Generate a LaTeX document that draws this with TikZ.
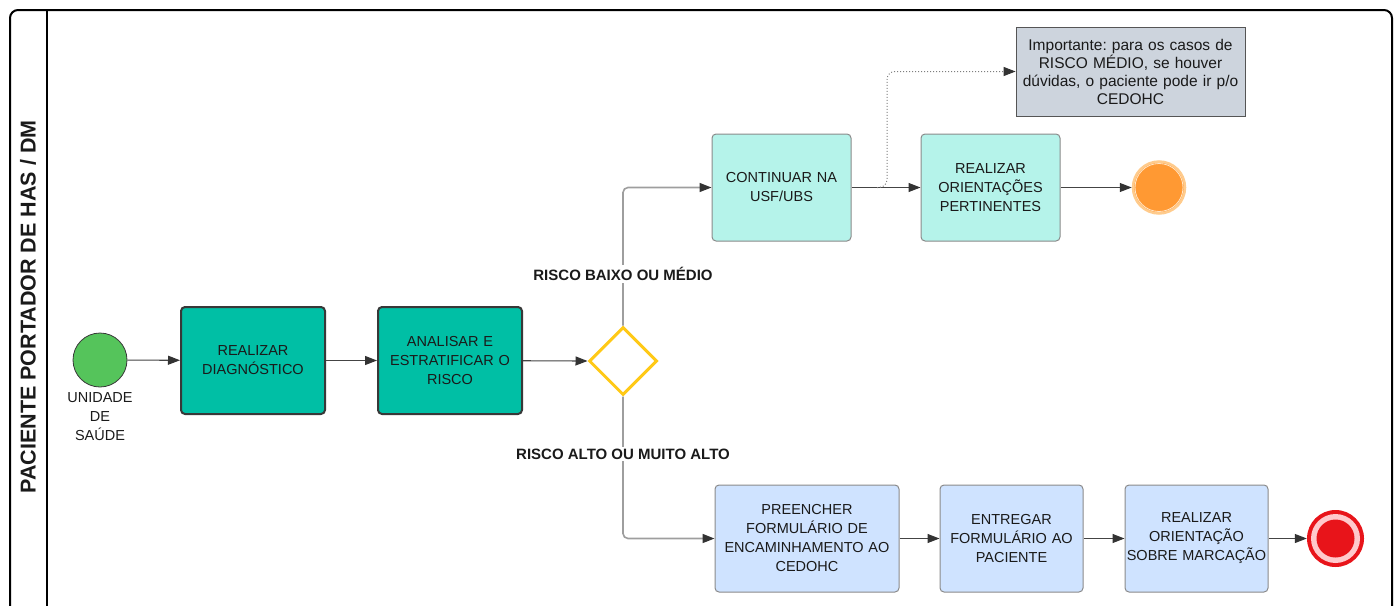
\documentclass[tikz,border=0pt]{standalone}
\usepackage{fontspec}
\setmainfont{Liberation Sans}
\usetikzlibrary{shapes.geometric,arrows.meta}
\frenchspacing

\definecolor{txtdark}{HTML}{1A1A1A}
\definecolor{startgreen}{HTML}{55C45B}
\definecolor{tealfill}{HTML}{00BFA5}
\definecolor{tealline}{HTML}{383838}
\definecolor{aquafill}{HTML}{B5F3EA}
\definecolor{bluefill}{HTML}{CFE3FF}
\definecolor{boxline}{HTML}{8A8A8A}
\definecolor{notefill}{HTML}{CDD4DD}
\definecolor{noteline}{HTML}{555555}
\definecolor{gwyellow}{HTML}{FFC916}
\definecolor{flowline}{HTML}{444444}
\definecolor{gwline}{HTML}{9E9E9E}
\definecolor{arrowdark}{HTML}{333333}
\definecolor{endorange}{HTML}{FF9933}
\definecolor{orangering}{HTML}{FFCB8C}
\definecolor{endred}{HTML}{E8141A}
\definecolor{endpink}{HTML}{FFC9CC}

\newcommand{\boxfont}{\fontsize{14.5}{19}\selectfont\hyphenpenalty=10000}
\newcommand{\notefont}{\fontsize{15.5}{18}\selectfont}

\tikzset{
    task/.style={rectangle,rounded corners=4pt,align=center,font=\boxfont,text=txtdark,inner sep=1pt,minimum height=107pt},
    tealtask/.style={task,fill=tealfill,draw=tealline,line width=2pt,text width=142pt},
    aquatask/.style={task,fill=aquafill,draw=boxline,line width=1pt,text width=137pt},
    bluetask/.style={task,fill=bluefill,draw=boxline,line width=1pt,text width=141pt},
    seqflow/.style={draw=flowline,line width=1.1pt,-{Triangle[length=12pt,width=9pt,color=arrowdark]}},
    gwflow/.style={draw=gwline,line width=1.6pt,rounded corners=5pt,-{Triangle[length=12pt,width=9pt,color=arrowdark]}},
    assocflow/.style={draw=gwline!80!black,dotted,line width=1pt,rounded corners=8pt,-{Triangle[length=12pt,width=9pt,color=arrowdark]}},
    risklabel/.style={fill=white,inner sep=2pt,text=txtdark,font=\fontsize{15}{18}\selectfont\bfseries}
}

\begin{document}
\begin{tikzpicture}[x=1pt,y=-1pt]
        \useasboundingbox (0,0) rectangle (1396,605);
        %% Pool and lane
        \draw[line width=2pt,rounded corners=8pt] (10,612) -- (10,10) -- (1392,10) -- (1392,612);
        \draw[line width=2pt] (47,10) -- (47,612);
        \node[rotate=90,font=\fontsize{21.5}{26}\selectfont\bfseries,text=txtdark] (lane) at (28,307) {PACIENTE PORTADOR DE HAS / DM};
        %% Start event
        \node[circle,minimum size=54pt,inner sep=0pt,fill=startgreen,draw=tealline,line width=0.8pt] (start) at (100,360) {};
        \node[align=center,font=\boxfont,text=txtdark,inner sep=0pt] (startlbl) at (100,417) {UNIDADE\\DE\\SAÚDE};
        %% Main tasks
        \node[tealtask] (diag) at (253,360.5) {REALIZAR\\DIAGNÓSTICO};
        \node[tealtask] (estrat) at (450,360.5) {ANALISAR E\\ESTRATIFICAR O\\RISCO};
        %% Gateway
        \node[diamond,draw=gwyellow,fill=white,line width=3pt,minimum width=68pt,minimum height=68pt,inner sep=0pt] (gw) at (623,361) {};
        %% Upper branch
        \node[aquatask] (cont) at (781.5,187.5) {CONTINUAR NA\\USF/UBS};
        \node[aquatask] (orient) at (990.5,187.5) {REALIZAR\\ORIENTAÇÕES\\PERTINENTES};
        \node[circle,minimum size=52pt,inner sep=0pt,fill=endorange,draw=orangering,line width=2.5pt] (endok) at (1159,187.5) {};
        \draw[orangering!50!white,line width=0.8pt] (endok.center) circle (24);
        %% Note
        \node[rectangle,fill=notefill,draw=noteline,line width=0.8pt,align=center,text width=225pt,minimum height=89pt,inner sep=2pt,font=\notefont,text=txtdark] (note) at (1130.5,71.5) {Importante: para os casos de\\RISCO MÉDIO, se houver\\dúvidas, o paciente pode ir p/o\\CEDOHC};
        %% Lower branch
        \node[bluetask,text width=182pt] (preench) at (807,538.5) {PREENCHER\\FORMULÁRIO DE\\ENCAMINHAMENTO AO\\CEDOHC};
        \node[bluetask] (entreg) at (1011.5,538.5) {ENTREGAR\\FORMULÁRIO AO\\PACIENTE};
        \node[bluetask] (marc) at (1196.5,538.5) {REALIZAR\\ORIENTAÇÃO\\SOBRE MARCAÇÃO};
        \node[circle,minimum size=57pt,inner sep=0pt,fill=endred] (endref) at (1335.5,538.5) {};
        \fill[endpink] (endref.center) circle (24.5);
        \fill[endred] (endref.center) circle (19);
        %% Sequence flows
        \draw[seqflow] (start) -- (diag);
        \draw[seqflow] (diag) -- (estrat);
        \draw[seqflow] (estrat) -- (gw.west);
        \draw[gwflow] (gw.north) |- (cont.west);
        \draw[gwflow] (gw.south) |- (preench.west);
        \node[risklabel] (lowrisk) at (623,274) {RISCO BAIXO OU MÉDIO};
        \node[risklabel] (highrisk) at (623,454) {RISCO ALTO OU MUITO ALTO};
        \draw[seqflow] (cont) -- (orient);
        \draw[seqflow] (orient) -- (endok);
        \draw[seqflow] (preench) -- (entreg);
        \draw[seqflow] (entreg) -- (marc);
        \draw[seqflow] (marc) -- (endref);
        %% Association to note
        \coordinate (assoc) at (877,187.5);
        \draw[assocflow] (assoc) -- ++(10,0) |- (note.west);
    \end{tikzpicture}
\end{document}
